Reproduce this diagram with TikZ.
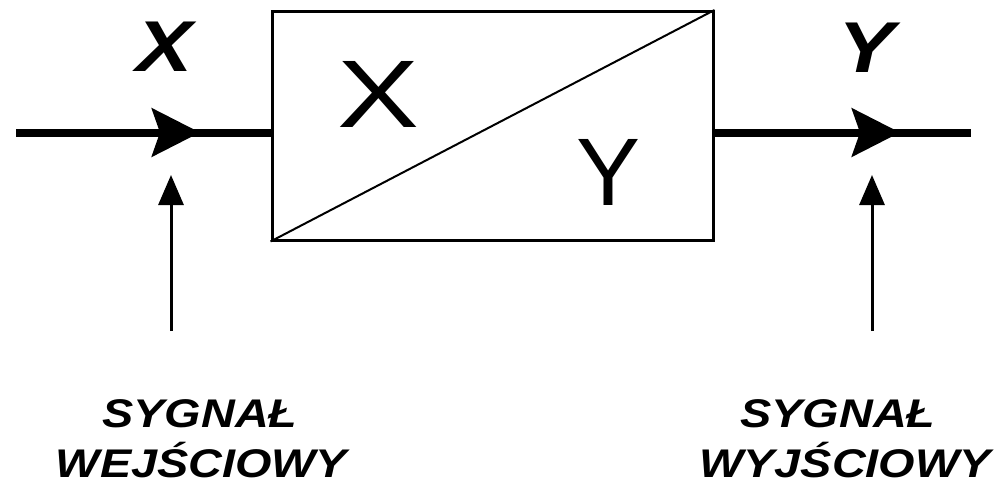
\documentclass[tikz,border=0pt]{standalone}
\usepackage{fontspec}
\setmainfont{Liberation Sans}
\newfontfamily\widesans{Liberation Sans}[FakeStretch=1.17]
\usetikzlibrary{arrows.meta}
\tikzset{
  sig/.style={line width=8pt},
  bigtip/.style={-{Stealth[length=48pt,width=48pt,inset=8pt]}},
  ptr/.style={line width=3pt,-{Triangle[length=30pt,width=25pt]}},
  lbl/.style={font=\widesans\bfseries\itshape\fontsize{72}{72}\selectfont,inner sep=0,anchor=base},
  inlbl/.style={font=\fontsize{96}{96}\selectfont,inner sep=0,anchor=base},
  captext/.style={font=\widesans\bfseries\itshape\fontsize{40}{40}\selectfont,inner sep=0,anchor=base}
}
\begin{document}
\begin{tikzpicture}[x=1pt,y=-1pt]
\useasboundingbox (0,0) rectangle (999,485);
\node[draw,line width=3pt,minimum width=441pt,minimum height=228.5pt,inner sep=0] (box) at (492.5,125.75) {};
\draw[line width=2pt] (box.south west) -- (box.north east);
\coordinate (inS) at (16,132.5);
\coordinate (inT) at (200,132.5);
\coordinate (inB) at (272,132.5);
\coordinate (outS) at (713,132.5);
\coordinate (outT) at (900,132.5);
\coordinate (outE) at (971,132.5);
\draw[sig] (inS) -- (inB);
\draw[sig,bigtip] (inS) -- (inT);
\draw[sig] (outS) -- (outE);
\draw[sig,bigtip] (outS) -- (outT);
\coordinate (p1s) at (171,331);
\coordinate (p1e) at (171,175);
\coordinate (p2s) at (872,331);
\coordinate (p2e) at (872,175);
\draw[ptr] (p1s) -- (p1e);
\draw[ptr] (p2s) -- (p2e);
\node[lbl] (lx) at (165,71) {X};
\node[lbl] (ly) at (866.5,72) {Y};
\node[inlbl] (ix) at (378.5,127) {\widesans\addfontfeature{FakeStretch=1.28}X};
\node[inlbl] (iy) at (608.5,205) {Y};
\node[captext] (c1a) at (200,427) {SYGNAŁ};
\node[captext] (c1b) at (201.5,477) {WEJŚCIOWY};
\node[captext] (c2a) at (838,427) {SYGNAŁ};
\node[captext] (c2b) at (845,477) {WYJŚCIOWY};
\end{tikzpicture}
\end{document}
